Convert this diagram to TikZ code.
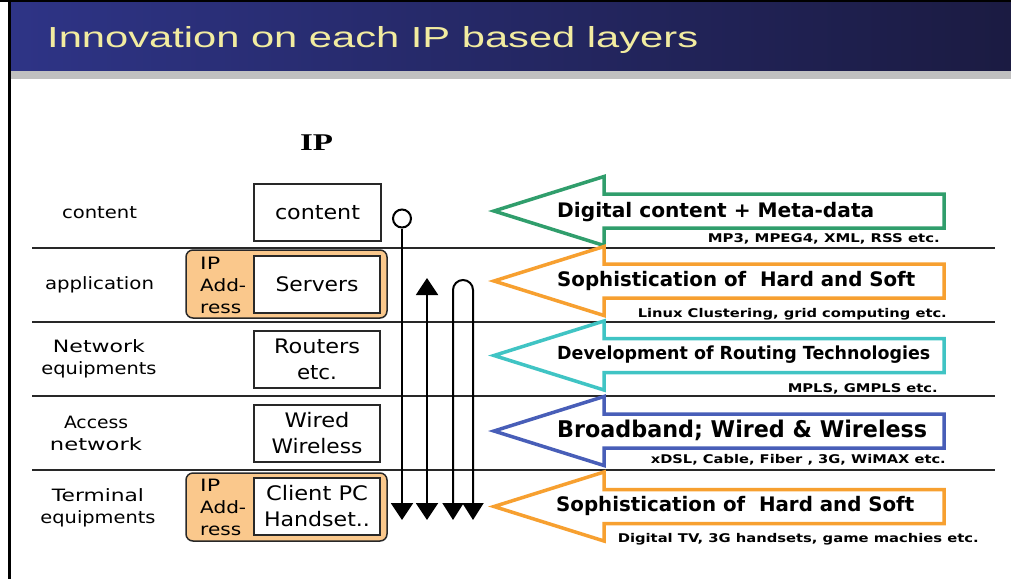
\documentclass[tikz,border=0pt]{standalone}
\usepackage{fontspec}
\usepackage{graphicx}
\usetikzlibrary{arrows.meta}
\newfontfamily\dv{DejaVu Sans}
\newfontfamily\lsans{Liberation Sans}
\newfontfamily\lserif{Liberation Serif}
\newcommand\fw[2]{\resizebox{#1pt}{\height}{#2}}
\definecolor{titleL}{RGB}{46,52,134}
\definecolor{titleM}{RGB}{40,44,112}
\definecolor{titleR}{RGB}{27,27,66}
\definecolor{titleY}{RGB}{242,236,160}
\definecolor{gstrip}{RGB}{192,192,192}
\definecolor{agreen}{RGB}{48,158,108}
\definecolor{aorange}{RGB}{247,160,48}
\definecolor{acyan}{RGB}{64,196,196}
\definecolor{ablue}{RGB}{72,94,184}
\definecolor{ipfill}{RGB}{250,200,140}
\definecolor{lin}{RGB}{40,40,40}
\newcommand\blockarrow[2]{%
  \draw[arr,draw=#1] (494,#2) -- (604,#2-34.5) -- (604,#2-17) -- (944,#2-17)
    -- (944,#2+17) -- (604,#2+17) -- (604,#2+34.5) -- cycle;}
\begin{document}
\begin{tikzpicture}[x=1pt,y=-1pt,
  lbl/.style={font=\dv\fontsize{17}{22}\selectfont, inner sep=0pt, align=center, text=black},
  boxt/.style={draw=lin, line width=1.5pt, fill=white, minimum width=126pt, minimum height=57pt,
    inner sep=0pt, font=\dv\fontsize{20}{26}\selectfont, align=center},
  ipbox/.style={draw=lin, line width=1.5pt, fill=ipfill, rounded corners=7pt,
    minimum width=201pt, minimum height=68pt},
  iptxt/.style={font=\dv\fontsize{17}{22}\selectfont, inner sep=0pt, align=left, anchor=west},
  bigt/.style={font=\dv\bfseries\fontsize{20}{24}\selectfont, inner sep=0pt, anchor=west},
  smallt/.style={font=\dv\bfseries\fontsize{12}{14}\selectfont, inner sep=0pt, anchor=east},
  arr/.style={line width=3.5pt, line join=miter},
  vl/.style={draw=black, line width=2pt},
  sep/.style={draw=lin, line width=1.8pt},
  tri/.tip={Triangle[width=22pt,length=17pt]}
]
\useasboundingbox (0,0) rectangle (1011,579);
\fill[white] (0,0) rectangle (1011,579);
% title bar
\shade[left color=titleL, middle color=titleM, right color=titleR] (11,2) rectangle (1011,71);
\fill[gstrip] (11,71) rectangle (1011,79);
\draw[black, line width=2.5pt] (0,1) -- (1011,1);
\draw[black, line width=3pt] (9.5,0) -- (9.5,579);
\node[anchor=base west, inner sep=0pt, text=titleY, font=\lsans\fontsize{29}{30}\selectfont]
  (title) at (47,47) {\fw{651}{Innovation on each IP based layers}};

% separators
\draw[sep] (32,248) -- (995,248);
\draw[sep] (32,322) -- (995,322);
\draw[sep] (32,396) -- (995,396);
\draw[sep] (32,470) -- (995,470);

% IP header
\node[inner sep=0pt, font=\lserif\bfseries\fontsize{24}{26}\selectfont] (iph) at (316.5,143) {\fw{33}{IP}};

% left labels
\node[lbl] (lcontent) at (99.5,213) {\fw{75}{content}};
\node[lbl] (lapp) at (99.5,285) {\fw{109}{application}};
\node[lbl] (lnet) at (99,359) {\fw{92}{Network}\\\fw{115}{equipments}};
\node[lbl] (lacc) at (96,433.5) {\fw{64}{Access}\\\fw{92}{network}};
\node[lbl] (lterm) at (98,508) {\fw{92}{Terminal}\\\fw{115}{equipments}};

% middle boxes
\node[boxt, minimum width=127pt] (bcontent) at (317.5,212.5) {\fw{85}{content}};
\node[ipbox] (srvip) at (286.5,284) {};
\node[boxt] (bserv) at (317,284.5) {\fw{83}{Servers}};
\node[iptxt] (srvipt) at (200,285) {\fw{20}{IP}\\\fw{46}{Add-}\\\fw{41}{ress}};
\node[boxt] (brout) at (317,359.5) {\fw{86}{Routers}\\\fw{40}{etc.}};
\node[boxt] (bwire) at (317,433.5) {\fw{65}{Wired}\\\fw{91}{Wireless}};
\node[ipbox] (cliip) at (286.5,507) {};
\node[boxt] (bcli) at (317,506.5) {\fw{102}{Client PC}\\\fw{106}{Handset..}};
\node[iptxt] (cliipt) at (200,507) {\fw{20}{IP}\\\fw{46}{Add-}\\\fw{41}{ress}};

% vertical connectors
\node[circle, draw=black, line width=2pt, minimum size=18pt, inner sep=0pt, fill=white] (circ) at (402,218.5) {};
\coordinate (b1) at (402,520);
\coordinate (u2) at (427,278);
\coordinate (b2) at (427,520);
\coordinate (b3) at (453,520);
\coordinate (b4) at (473,520);
\draw[vl,-{tri}] (circ.south) -- (b1);
\draw[vl,{tri}-{tri}] (u2) -- (b2);
\draw[vl,{Triangle[width=21pt,length=17pt]}-{Triangle[width=21pt,length=17pt]}] (b3) -- (453,290) arc[start angle=180, end angle=0, radius=10pt] -- (b4);

% block arrows
\blockarrow{agreen}{211}
\blockarrow{aorange}{281}
\blockarrow{acyan}{355.5}
\blockarrow{ablue}{431}
\blockarrow{aorange}{506.5}

% arrow texts
\node[bigt] (t1) at (557,212) {\fw{317}{Digital content + Meta-data}};
\node[smallt] (s1) at (940,239) {\fw{232}{MP3, MPEG4, XML, RSS etc.}};
\node[bigt] (t2) at (557,281) {\fw{358}{Sophistication of \ Hard and Soft}};
\node[smallt] (s2) at (947,314) {\fw{309}{Linux Clustering, grid computing etc.}};
\node[bigt, font=\dv\bfseries\fontsize{18}{22}\selectfont] (t3) at (557,355) {\fw{373}{Development of Routing Technologies}};
\node[smallt] (s3) at (938,389) {\fw{150}{MPLS, GMPLS etc.}};
\node[bigt, font=\dv\bfseries\fontsize{23}{26}\selectfont] (t4) at (557,430) {\fw{370}{Broadband; Wired \& Wireless}};
\node[smallt] (s4) at (946,460) {\fw{295}{xDSL, Cable, Fiber , 3G, WiMAX etc.}};
\node[bigt] (t5) at (556,506) {\fw{358}{Sophistication of \ Hard and Soft}};
\node[smallt] (s5) at (979,539) {\fw{361}{Digital TV, 3G handsets, game machies etc.}};
\end{tikzpicture}
\end{document}
